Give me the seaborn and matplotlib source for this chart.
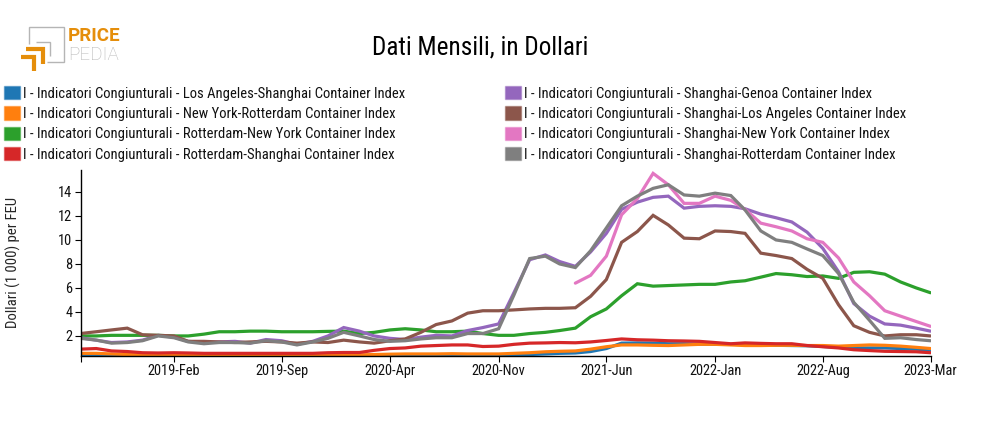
import pandas as pd
import numpy as np
import matplotlib
matplotlib.use("Agg")
import matplotlib.pyplot as plt
from matplotlib.lines import Line2D
from matplotlib.patches import Patch
import seaborn as sns

sns.set_theme(style="white")
plt.rcParams['font.family'] = ['Roboto Condensed', 'Roboto', 'DejaVu Sans']

months = pd.date_range("2018-08-01", "2023-03-01", freq="MS")
tick_labels = ["2019-Feb", "2019-Sep", "2020-Apr", "2020-Nov", "2021-Jun", "2022-Jan", "2022-Aug", "2023-Mar"]
title = "Dati Mensili, in Dollari"
ylabel = "Dollari (1 000) per FEU"
prefix = "I - Indicatori Congiunturali - "
routes = ["Los Angeles-Shanghai", "New York-Rotterdam", "Rotterdam-New York", "Rotterdam-Shanghai",
          "Shanghai-Genoa", "Shanghai-Los Angeles", "Shanghai-New York", "Shanghai-Rotterdam"]

la_sh = [.38,.38,.38,.38,.38,.38,.38,.38,.38,.38,.38,.38,.38,.38,.38,.38,.38,.38,.38,.38,.38,.38,.38,.38,.4,.4,.42,.43,
         .45,.45,.5,.55,.58,.7,.95,1.4,1.42,1.4,1.35,1.35,1.32,1.3,1.3,1.28,1.25,1.22,1.2,1.18,1.12,1.05,1.0,1.0,1.0,.95,.9,.8]
ny_rt = [.55,.55,.5,.45,.42,.42,.42,.42,.42,.42,.42,.42,.42,.42,.42,.42,.42,.42,.42,.45,.48,.5,.5,.5,.52,.5,.5,.5,
         .55,.6,.68,.72,.75,.9,1.1,1.25,1.25,1.22,1.2,1.25,1.3,1.3,1.25,1.2,1.2,1.22,1.22,1.2,1.2,1.15,1.2,1.25,1.22,1.15,1.05,.95]
rt_ny = [2.0,2.0,2.05,2.05,2.05,2.05,2.0,2.0,2.15,2.35,2.35,2.4,2.4,2.35,2.35,2.35,2.38,2.4,2.2,2.3,2.5,2.6,2.5,2.35,2.35,2.4,2.2,2.05,
         2.05,2.2,2.3,2.45,2.65,3.6,4.25,5.35,6.35,6.15,6.2,6.25,6.3,6.3,6.5,6.6,6.9,7.2,7.1,6.95,7.0,6.8,7.3,7.35,7.15,6.5,6.0,5.6]
rt_sh = [.9,.95,.75,.7,.6,.58,.6,.58,.55,.55,.55,.55,.55,.55,.55,.55,.6,.62,.62,.8,.95,1.0,1.15,1.2,1.25,1.25,1.12,1.15,
         1.3,1.4,1.42,1.45,1.43,1.5,1.62,1.75,1.68,1.65,1.6,1.58,1.55,1.45,1.35,1.42,1.38,1.35,1.35,1.2,1.1,1.0,.85,.78,.72,.7,.68,.6]
sh_ge = [1.85,1.65,1.45,1.5,1.65,2.05,1.9,1.55,1.45,1.5,1.55,1.4,1.7,1.6,1.3,1.55,2.0,2.7,2.4,2.0,1.8,1.7,1.9,2.05,2.0,2.45,2.7,3.0,
         5.6,8.35,8.75,8.2,7.8,9.0,10.55,12.55,13.15,13.55,13.65,12.65,12.8,12.85,12.8,12.6,12.15,11.85,11.5,10.65,9.3,7.35,4.7,3.65,3.0,2.9,2.65,2.4]
sh_la = [2.2,2.35,2.5,2.65,2.1,2.05,2.0,1.55,1.55,1.5,1.45,1.5,1.55,1.5,1.4,1.5,1.45,1.65,1.5,1.4,1.6,1.75,2.3,2.95,3.25,3.9,4.1,4.1,
         4.17,4.25,4.3,4.3,4.35,5.3,6.7,9.8,10.7,12.05,11.25,10.15,10.1,10.75,10.7,10.55,8.9,8.7,8.45,7.55,6.8,4.6,2.85,2.3,2.0,2.1,2.1,2.0]
sh_ny = [np.nan]*32 + [6.4,7.05,8.65,12.1,13.45,15.55,14.6,13.05,13.05,13.65,13.3,12.55,11.4,11.1,10.75,10.1,9.8,8.5,6.5,5.35,4.1,3.65,3.2,2.8]
sh_rt = [1.8,1.65,1.4,1.45,1.6,2.0,1.85,1.5,1.35,1.45,1.45,1.4,1.6,1.5,1.25,1.5,1.8,2.3,2.0,1.7,1.55,1.6,1.75,1.85,1.85,2.2,2.2,2.6,
         5.4,8.45,8.65,8.0,7.7,9.1,11.0,12.85,13.65,14.3,14.6,13.75,13.65,13.9,13.7,12.5,10.75,10.0,9.8,9.25,8.7,7.2,4.8,3.3,1.8,1.85,1.7,1.6]
values = [la_sh, ny_rt, rt_ny, rt_sh, sh_ge, sh_la, sh_ny, sh_rt]

names = [f"{prefix}{r} Container Index" for r in routes]
df = pd.concat([pd.DataFrame({"month": months, "value": v, "series": n}) for n, v in zip(names, values)],
               ignore_index=True)
palette = sns.color_palette("tab10", 8)

W, H = 985, 430
fig = plt.figure(figsize=(W/100, H/100), dpi=100, facecolor="white")
ax = fig.add_axes([80.5/W, 1-355.5/H, 850/W, 185.5/H])
sns.lineplot(data=df, x="month", y="value", hue="series", hue_order=names, palette=palette,
             linewidth=2.3, legend=False, ax=ax, errorbar=None, estimator=None, solid_joinstyle="miter")

ax.set_xlim(months[0], months[-1])
ax.set_ylim(0.37, 15.83)
ax.set_yticks(range(2, 15, 2))
ax.set_xticks([months[0]] + [pd.to_datetime(t, format="%Y-%b") for t in tick_labels])
ax.set_xticklabels([""] + tick_labels)
ax.set_xlabel("")
ax.set_ylabel(ylabel, fontsize=10.6)
ax.yaxis.set_label_coords(-0.070, 0.5)
for s in ("top", "right"):
    ax.spines[s].set_visible(False)
for s in ("left", "bottom"):
    ax.spines[s].set_color("black")
    ax.spines[s].set_linewidth(1.0)
ax.tick_params(axis="both", length=4.5, width=0.8, color="black", labelcolor="#111111", labelsize=10.4, pad=1.5, bottom=True, left=True)

fig.text(480/W, 1-47/H, title, fontsize=18.2, ha="center", va="center", color="black")

# legends
for idx, x0 in ((range(0, 4), 4), (range(4, 8), 505)):
    handles = [Patch(facecolor=palette[i], edgecolor=(*palette[i], .45), linewidth=1) for i in idx]
    fig.legend(handles, [names[i] for i in idx], loc="upper left", bbox_to_anchor=(x0/W, 1-86/H),
               frameon=False, fontsize=10.55, borderpad=0, borderaxespad=0, labelspacing=0.39,
               handlelength=1.07, handleheight=1.02, handletextpad=0.2, labelcolor="#111111")

# logo
orange = "#E58E0B"
grey = "#B5B5B5"
def poly(xs, ys, c, lw):
    fig.add_artist(Line2D([x/W for x in xs], [1-y/H for y in ys], color=c, linewidth=lw,
                          transform=fig.transFigure, solid_joinstyle="miter", solid_capstyle="butt"))
poly([29, 29, 64, 64, 47], [44, 26.5, 26.5, 62, 62], grey, 1.0)
poly([36, 50, 50], [41.5, 41.5, 56], grey, 1.0)
poly([26, 43, 43], [49, 49, 64], orange, 3.0)
poly([21, 34, 34], [56.5, 56.5, 71], orange, 3.0)
fig.text(68/W, 1-36/H, "PRICE", fontsize=13.5, color=orange, fontweight="bold", family="Roboto", ha="left", va="center")
fig.text(68/W, 1-54.5/H, "PEDIA", fontsize=13.5, color=grey, family="Roboto", fontweight="light", ha="left", va="center")

fig.savefig("out.png", dpi=100)
